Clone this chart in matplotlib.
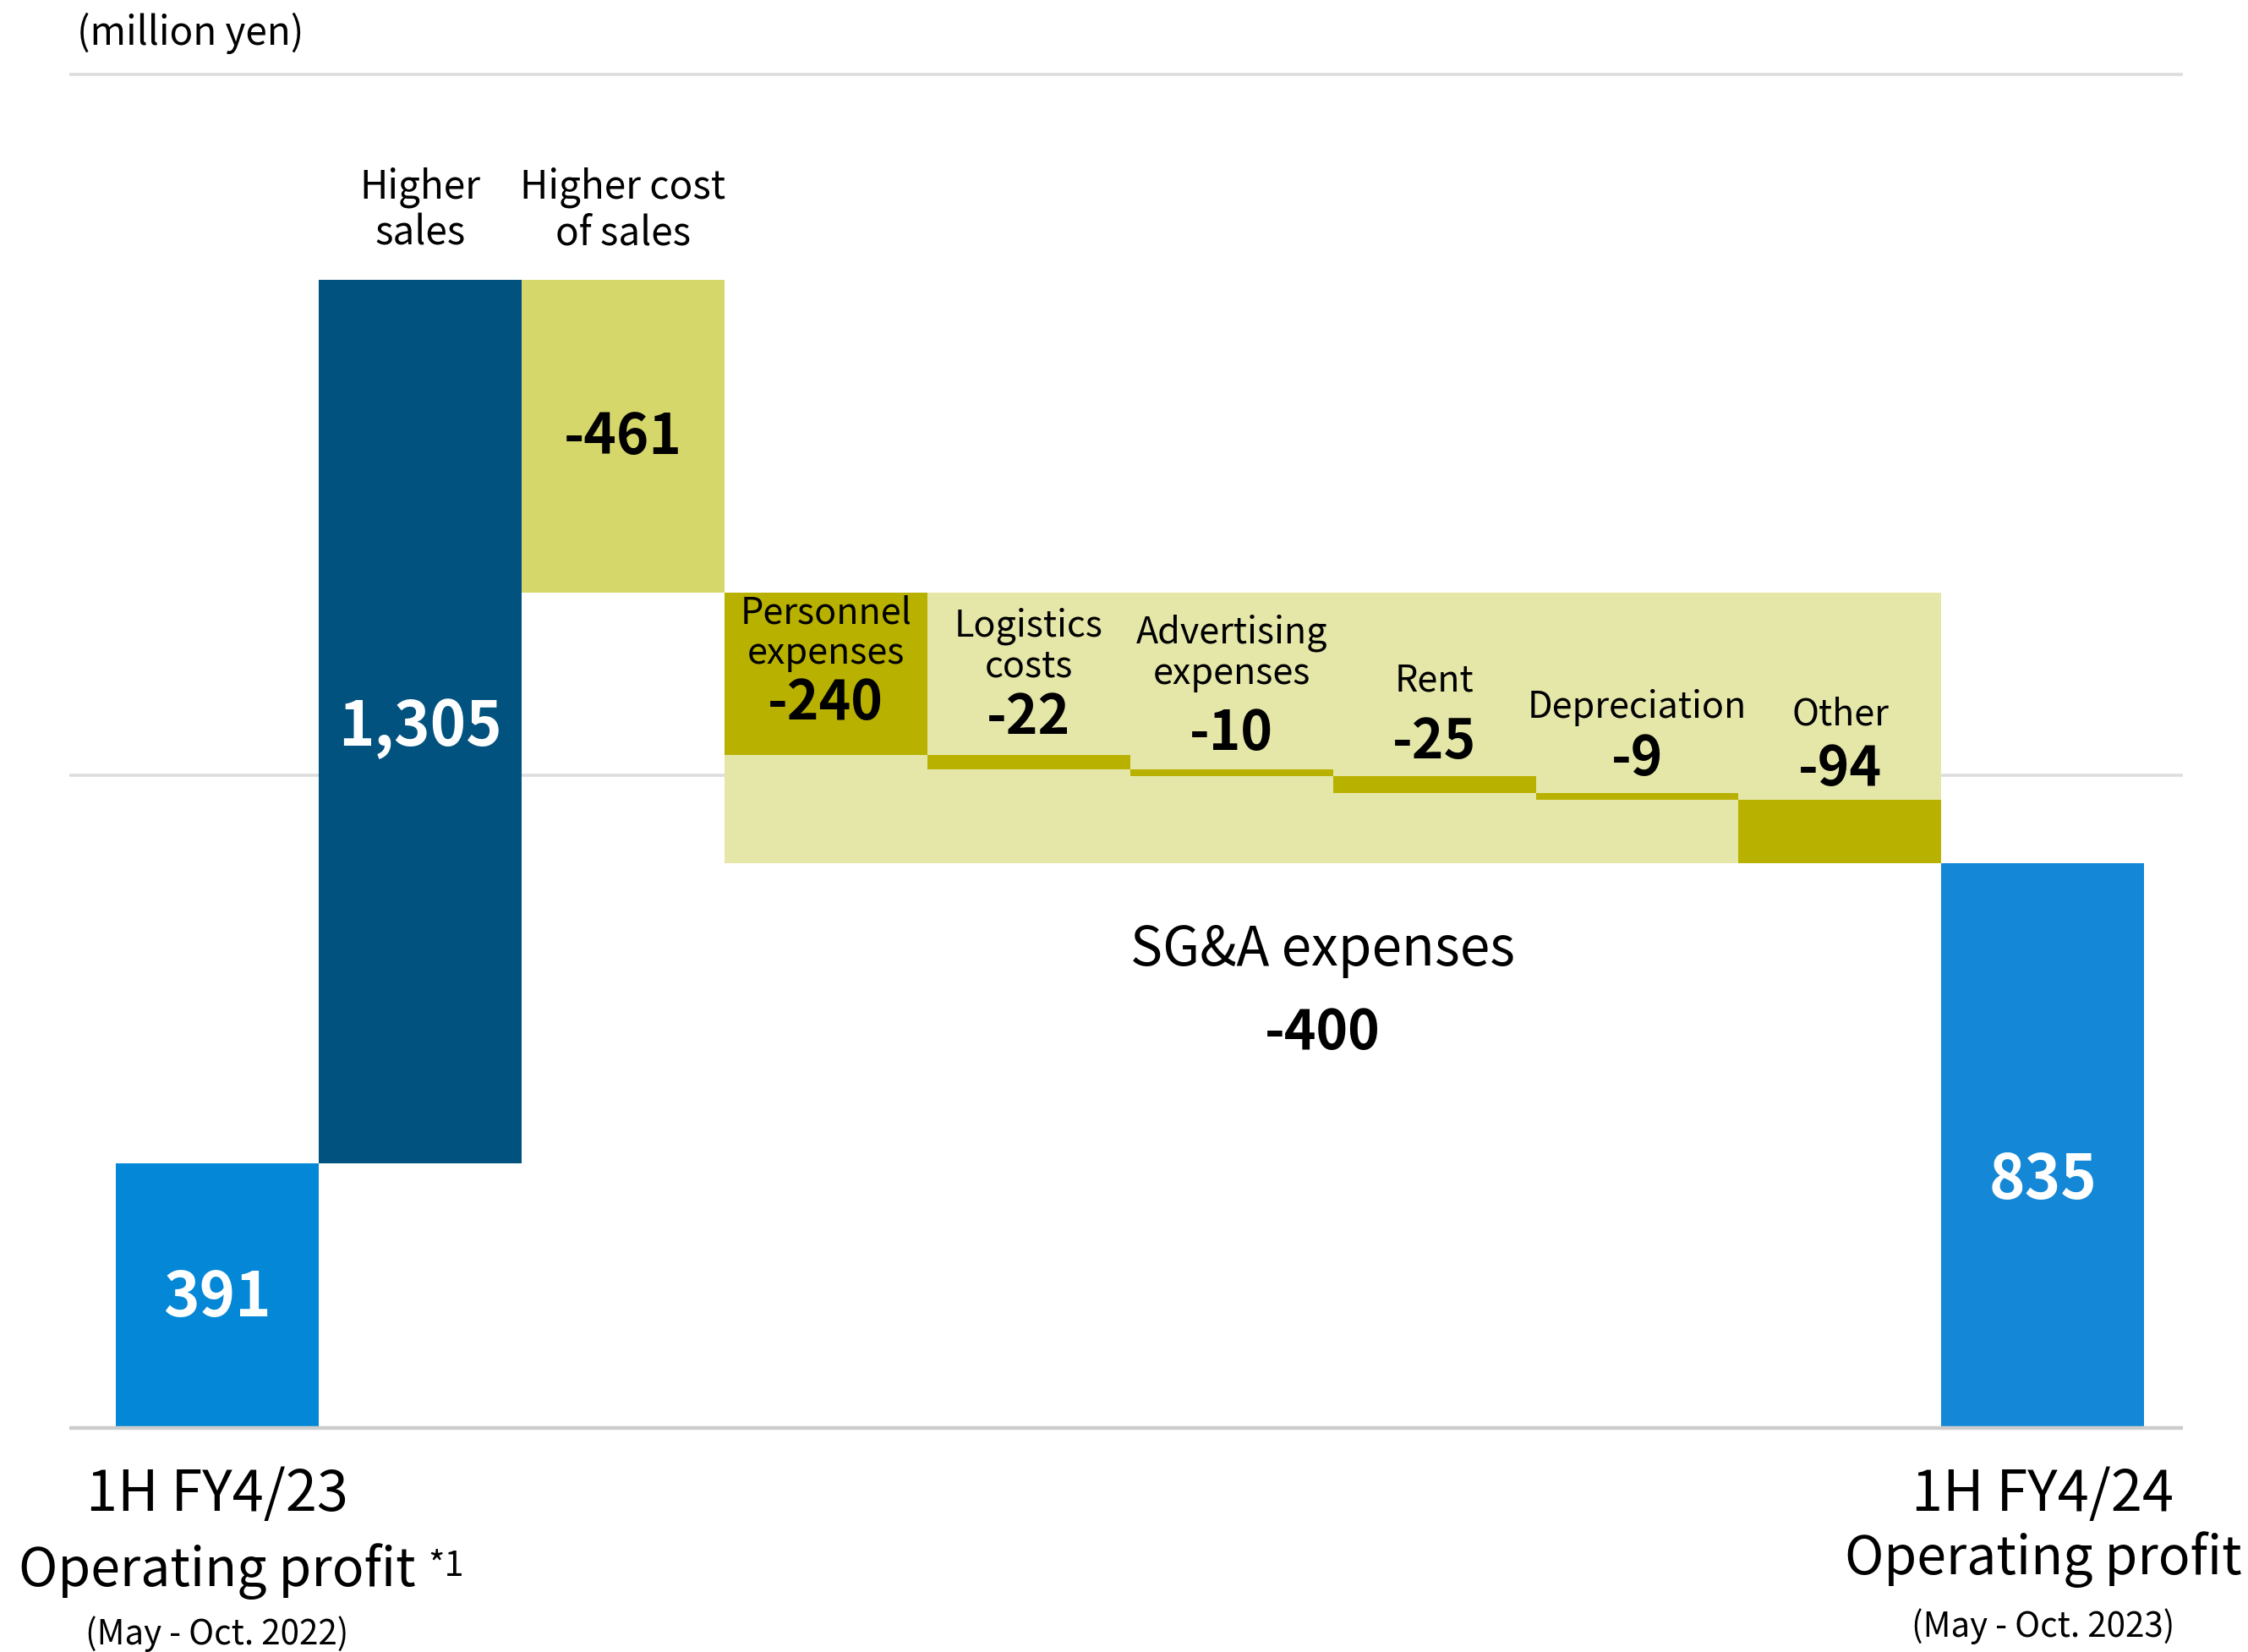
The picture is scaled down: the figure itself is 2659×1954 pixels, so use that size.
import matplotlib
matplotlib.use("Agg")
import matplotlib.pyplot as plt
import numpy as np

plt.rcParams['font.family'] = ['Noto Sans CJK JP', 'DejaVu Sans']

# data (million yen)
start_value = 391
end_value = 835
top_items = ["Higher\nsales", "Higher cost\nof sales"]
top_values = [1305, -461]
sga_items = ["Personnel\nexpenses", "Logistics\ncosts", "Advertising\nexpenses",
             "Rent", "Depreciation", "Other"]
sga_values = [-240, -22, -10, -25, -9, -94]
sga_total = -400
start_label = ["1H FY4/23", "Operating profit", "(May - Oct. 2022)"]
end_label = ["1H FY4/24", "Operating profit", "(May - Oct. 2023)"]

# label heights (in y units) for the SG&A captions / numbers
sga_name_y = [1174, 1155, 1145, 1104, 1064, 1054]
sga_num_y = [1071, 1049, 1026, 1013, 988, 973]

c_start = "#0387D6"
c_end = "#1488D6"
c_sales = "#02527F"
c_cost = "#D6D76A"
c_sga_bg = "#E5E7A9"
c_sga = "#B9B100"

fig = plt.figure(figsize=(13.295, 9.77), dpi=200)
ax = fig.add_axes([0, 0, 1, 1])
ax.set_xlim(-1.0707, 10.011)
ax.set_ylim(-330.5, 2110)
ax.axis('off')

# grid lines
ax.hlines([2000, 965], -0.731, 9.69, color="#DDDDDD", lw=1.3, zorder=0)
ax.hlines([0], -0.731, 9.69, color="#CCCCCC", lw=1.6, zorder=3)

# start bar
ax.bar(0, start_value, width=1.0, color=c_start, zorder=2)
ax.text(0, start_value / 2 - 4, f"{start_value:,}", color="white", fontsize=26,
        fontweight="bold", ha="center", va="center")

# higher sales / cost of sales
level = start_value
for i, (name, v) in enumerate(zip(top_items, top_values)):
    x = i + 1
    bottom = level if v > 0 else level + v
    col = c_sales if v > 0 else c_cost
    ax.bar(x, abs(v), bottom=bottom, width=1.0, color=col, zorder=2)
    txt = f"{v:,}"
    ax.text(x, bottom + abs(v) / 2 - (8 if v > 0 else 2), txt,
            color="white" if v > 0 else "black", fontsize=26 if v > 0 else 23.5,
            fontweight="bold", ha="center", va="center")
    level += v
for i, name in enumerate(top_items):
    ax.text(i + 1, 1799, name, fontsize=16.5, ha="center", va="center",
            linespacing=1.15)

# SG&A block
sga_top = level
sga_bottom = level + sum(sga_values)
n = len(sga_values)
ax.bar(3 + (n - 1) / 2, sga_top - sga_bottom, bottom=sga_bottom, width=n,
       color=c_sga_bg, zorder=1)
for i, (name, v) in enumerate(zip(sga_items, sga_values)):
    x = 3 + i
    ax.bar(x, abs(v), bottom=level + v, width=1.0, color=c_sga, zorder=2)
    ax.text(x, sga_name_y[i], name, fontsize=15.5, ha="center", va="center",
            linespacing=1.1, zorder=4)
    ax.text(x, sga_num_y[i], f"{v:,}", fontsize=23, fontweight="bold",
            ha="center", va="center", zorder=4)
    level += v

ax.text(5.45, 706, "SG&A expenses", fontsize=23, ha="center", va="center")
ax.text(5.45, 583, f"{sga_total:,}", fontsize=23, fontweight="bold",
        ha="center", va="center")

# end bar
xe = 3 + n
ax.bar(xe, end_value, width=1.0, color=c_end, zorder=2)
ax.text(xe, 366, f"{end_value:,}", color="white", fontsize=26,
        fontweight="bold", ha="center", va="center")

# unit
ax.text(-0.69, 2061, "(million yen)", fontsize=16.5, ha="left", va="center")

# bottom labels
ax.text(0, -98, start_label[0], fontsize=24, ha="center", va="center")
ax.text(0, -211, start_label[1], fontsize=22.5, ha="center", va="center")
ax.text(1.04, -204, "*1", fontsize=15, ha="left", va="center")
ax.text(0, -304, start_label[2], fontsize=14.5, ha="center", va="center")

ax.text(xe, -98, end_label[0], fontsize=24, ha="center", va="center")
ax.text(xe, -194, end_label[1], fontsize=22.5, ha="center", va="center")
ax.text(xe, -292, end_label[2], fontsize=14.5, ha="center", va="center")

fig.savefig("out.png", dpi=200)
